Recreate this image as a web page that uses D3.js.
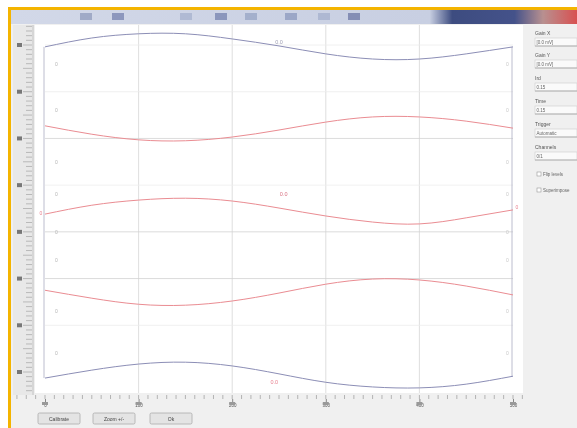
<!DOCTYPE html>
<html>
<head>
<meta charset="utf-8">
<script src="https://cdn.jsdelivr.net/npm/d3@7"></script>
<style>
  html, body { margin: 0; padding: 0; background: #fff; }
  svg { display: block; font-family: "Liberation Sans", Arial, sans-serif; filter: blur(0.4px); }
</style>
</head>
<body>
<svg id="chart" width="577" height="428"></svg>
<script>
// sample positions along the sweep
var xs = [0, 50, 100, 150, 200, 250, 300, 350, 400, 450, 500];
var xTicks = [0, 100, 200, 300, 400, 500];
var xTickLabels = ["0", "100", "200", "300", "400", "500"];
var yTicks = [0, 10, 20, 30, 40, 50, 60, 70];

// traces (in divisions x10)
var traceTop    = [69.6, 71.5, 72.4, 72.4, 71.3, 69.8, 68.1, 67.0, 67.0, 68.1, 69.6];
var traceRed1   = [52.7, 50.9, 49.7, 49.5, 50.3, 51.8, 53.5, 54.6, 54.6, 53.7, 52.2];
var traceRed2   = [33.8, 35.7, 36.8, 37.2, 36.6, 35.1, 33.4, 32.1, 31.7, 33.0, 34.7];
var traceRed3   = [17.5, 15.8, 14.5, 14.3, 15.2, 16.9, 18.8, 19.9, 19.7, 18.4, 16.5];
var traceBottom = [-1.3, 0.4, 1.7, 2.1, 1.3, -0.4, -2.2, -3.2, -3.4, -2.6, -0.9];

// side panel fields
var fieldLabels = ["Gain X", "Gain Y", "Ird", "Time", "Trigger", "Channels"];
var fieldValues = ["[0.0 mV]", "[0.0 mV]", "0.15", "0.15", "Automatic", "0/1"];
var checkLabels = ["Flip levels", "Superimpose"];
var buttonLabels = ["Calibrate", "Zoom +/-", "Ok"];

var svg = d3.select("#chart");

var x = d3.scaleLinear().domain([0, 500]).range([45, 513]);
var y = d3.scaleLinear().domain([0, 70]).range([372, 45]);

/// window background
svg.append("rect").attr("x", 8).attr("y", 8).attr("width", 569).attr("height", 420).attr("fill", "#f0f0f0");

/// title bar
var grad = svg.append("defs").append("linearGradient").attr("id", "tb").attr("x1", 0).attr("x2", 1);
grad.append("stop").attr("offset", "0").attr("stop-color", "#d2d8e8");
grad.append("stop").attr("offset", "0.74").attr("stop-color", "#c8cfe2");
grad.append("stop").attr("offset", "0.78").attr("stop-color", "#3d4c80");
grad.append("stop").attr("offset", "0.89").attr("stop-color", "#44528a");
grad.append("stop").attr("offset", "0.94").attr("stop-color", "#b89090");
grad.append("stop").attr("offset", "1").attr("stop-color", "#d85050");
svg.append("rect").attr("x", 10).attr("y", 10).attr("width", 567).attr("height", 14).attr("fill", "url(#tb)");
// blurry toolbar icons
var icons = [[80, "#7886ad"], [112, "#55659a"], [180, "#97a4c4"], [215, "#55649a"], [245, "#8493b8"], [285, "#7584ae"], [318, "#97a4c4"], [348, "#4a5890"]];
svg.selectAll("rect.icon").data(icons).enter().append("rect")
  .attr("class", "icon")
  .attr("x", d => d[0]).attr("y", 13).attr("width", 12).attr("height", 7)
  .attr("fill", d => d[1]).attr("opacity", 0.55);

/// orange frame
svg.append("rect").attr("x", 8).attr("y", 7).attr("width", 569).attr("height", 3).attr("fill", "#f4b400");
svg.append("rect").attr("x", 8).attr("y", 7).attr("width", 3).attr("height", 421).attr("fill", "#f4b400");

/// plot background
svg.append("rect").attr("x", 35).attr("y", 25).attr("width", 488).attr("height", 368).attr("fill", "#fff");

/// grid
svg.append("g").selectAll("line").data(xTicks.slice(1, -1)).enter().append("line")
  .attr("x1", d => x(d)).attr("x2", d => x(d)).attr("y1", 25).attr("y2", 393)
  .attr("stroke", "#d6d6d6").attr("stroke-width", 0.8);
svg.append("g").selectAll("line").data(yTicks.slice(1)).enter().append("line")
  .attr("x1", 45).attr("x2", 513).attr("y1", d => y(d)).attr("y2", d => y(d))
  .attr("stroke", d => (d == 50 || d == 30 || d == 20) ? "#d2d2d2" : "#ececec").attr("stroke-width", 0.8);

/// small level marks near each edge
var marks = [66, 56, 45, 38, 30, 24, 13, 4];
svg.append("g").selectAll("text").data(marks).enter().append("text")
  .attr("x", 55).attr("y", d => y(d) + 2).attr("font-size", 5).attr("fill", "#b4b4b4").text("0");
svg.append("g").selectAll("text").data(marks).enter().append("text")
  .attr("x", 506).attr("y", d => y(d) + 2).attr("font-size", 5).attr("fill", "#c8c8c8").text("0");

/// side frame joining the outer traces
[0, 10].forEach(function(k) {
  svg.append("line")
    .attr("x1", x(xs[k]) - 1).attr("x2", x(xs[k]) - 1)
    .attr("y1", y(traceTop[k])).attr("y2", y(traceBottom[k]))
    .attr("stroke", "#b4b6c8").attr("stroke-width", 0.9);
});

/// traces
var line = d3.line().x((d, i) => x(xs[i])).y(d => y(d)).curve(d3.curveNatural);
var traces = [
  [traceTop, "#8c8eb6"],
  [traceRed1, "#ea8c92"],
  [traceRed2, "#ea8c92"],
  [traceRed3, "#ea8c92"],
  [traceBottom, "#8c8eb6"]
];
svg.append("g").selectAll("path").data(traces).enter().append("path")
  .attr("d", d => line(d[0]))
  .attr("fill", "none").attr("stroke", d => d[1]).attr("stroke-width", 1);

/// cursor labels
var cursors = [[250, 70.2, "0.0", "#a0a0b4"], [255, 37.6, "0.0", "#d87080"], [245, -2.6, "0.0", "#e88090"]];
svg.append("g").selectAll("text").data(cursors).enter().append("text")
  .attr("x", d => x(d[0])).attr("y", d => y(d[1])).attr("font-size", 5.5).attr("fill", d => d[3])
  .attr("text-anchor", "middle").text(d => d[2]);
svg.append("text").attr("x", 41).attr("y", y(33.6)).attr("font-size", 5).attr("fill", "#e88090").attr("text-anchor", "middle").text("0");
svg.append("text").attr("x", 517).attr("y", y(34.9)).attr("font-size", 5).attr("fill", "#e88090").attr("text-anchor", "middle").text("0");

/// left ruler
svg.append("rect").attr("x", 13).attr("y", 25).attr("width", 21).attr("height", 370).attr("fill", "#e8e8e8");
var yMinor = d3.range(-4, 75, 1);
svg.append("g").selectAll("line").data(yMinor).enter().append("line")
  .attr("x1", d => d % 5 == 0 ? 23 : 26).attr("x2", 32)
  .attr("y1", d => y(d)).attr("y2", d => y(d))
  .attr("stroke", "#999").attr("stroke-width", 0.6);
svg.append("g").selectAll("rect").data(yTicks).enter().append("rect")
  .attr("x", 17).attr("y", d => y(d) - 2).attr("width", 5).attr("height", 4).attr("fill", "#777");
svg.append("line").attr("x1", 33).attr("x2", 33).attr("y1", 25).attr("y2", 395).attr("stroke", "#c4c4c4");

/// bottom ruler
var xMinor = d3.range(-30, 531, 10);
svg.append("g").selectAll("line").data(xMinor).enter().append("line")
  .attr("x1", d => x(d)).attr("x2", d => x(d)).attr("y1", 395).attr("y2", 399)
  .attr("stroke", "#999").attr("stroke-width", 0.7);
var xAxis = svg.append("g").attr("transform", "translate(0,399)")
  .call(d3.axisBottom(x).tickValues(xTicks).tickFormat((d, i) => xTickLabels[i]).tickSize(3));
xAxis.select(".domain").remove();
xAxis.selectAll("line").attr("stroke", "#888");
xAxis.selectAll("text").attr("font-size", 4.5).attr("fill", "#555").attr("dy", "0.4em");
svg.append("g").selectAll("rect").data(xTicks).enter().append("rect")
  .attr("x", d => x(d) - 3).attr("y", 402).attr("width", 6).attr("height", 3).attr("fill", "#999");

/// buttons
var btnX = [38, 93, 150];
var btns = svg.append("g").selectAll("g").data(buttonLabels).enter().append("g")
  .attr("transform", (d, i) => "translate(" + btnX[i] + ",413)");
btns.append("rect").attr("width", 42).attr("height", 11).attr("rx", 1.5)
  .attr("fill", "#e4e4e4").attr("stroke", "#ababab").attr("stroke-width", 0.8);
btns.append("text").attr("x", 21).attr("y", 7.5).attr("text-anchor", "middle")
  .attr("font-size", 5).attr("fill", "#444").text(d => d);

/// right panel
svg.append("rect").attr("x", 524).attr("y", 25).attr("width", 53).attr("height", 403).attr("fill", "#f0f0f0");
var fieldY = [33, 55, 78, 101, 124, 147];
var fields = svg.append("g").selectAll("g").data(fieldLabels).enter().append("g")
  .attr("transform", (d, i) => "translate(535," + fieldY[i] + ")");
fields.append("text").attr("y", 2).attr("font-size", 5).attr("fill", "#555").text(d => d);
fields.append("rect").attr("y", 5).attr("width", 42).attr("height", 8).attr("fill", "#fafafa")
  .attr("stroke", "#cccccc").attr("stroke-width", 0.6);
fields.append("line").attr("x1", 0).attr("x2", 42).attr("y1", 13).attr("y2", 13).attr("stroke", "#a4a4a4").attr("stroke-width", 0.8);
fields.append("text").attr("x", 1.5).attr("y", 11).attr("font-size", 4.5).attr("fill", "#666")
  .text((d, i) => fieldValues[i]);
var checks = svg.append("g").selectAll("g").data(checkLabels).enter().append("g")
  .attr("transform", (d, i) => "translate(537," + (172 + i * 16) + ")");
checks.append("rect").attr("width", 4).attr("height", 4).attr("fill", "#fff").attr("stroke", "#999").attr("stroke-width", 0.6);
checks.append("text").attr("x", 6).attr("y", 3.8).attr("font-size", 4.5).attr("fill", "#666").text(d => d);
</script>
</body>
</html>
